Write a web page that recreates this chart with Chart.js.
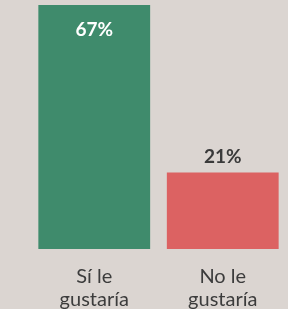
<!DOCTYPE html>
<html>
<head>
  <script src="https://cdn.jsdelivr.net/npm/chart.js"></script>
  <style>
    html, body { margin: 0; padding: 0; background: #dbd5d1; }
    #wrap { width: 288px; height: 309px; }
  </style>
</head>
<body>
  <div id="wrap"><canvas id="chart"></canvas></div>
  <script>
    const categories = [["Sí le", "gustaría"], ["No le", "gustaría"]];
    const values = [67, 21];
    const valueLabels = ["67%", "21%"];
    const barColors = ["#3f8b6c", "#dc6262"];
    const labelColors = ["#ffffff", "#3a3a3a"];

    // draws the percentage over each bar
    const valuePlugin = {
      id: 'valueLabels',
      afterDatasetsDraw(chart) {
        const ctx = chart.ctx;
        const bars = chart.getDatasetMeta(0).data;
        ctx.save();
        ctx.textAlign = 'center';
        ctx.textBaseline = 'middle';
        ctx.font = 'bold 19px Lato';
        bars.forEach((bar, i) => {
          ctx.fillStyle = labelColors[i];
          const y = i === 0 ? bar.y + 25 : bar.y - 16;
          ctx.fillText(valueLabels[i], bar.x, y);
        });
        ctx.restore();
      }
    };

    new Chart(document.getElementById("chart"), {
      type: 'bar',
      data: {
        labels: categories,
        datasets: [{
          data: values,
          backgroundColor: barColors,
          barPercentage: 0.87,
          categoryPercentage: 1
        }]
      },
      options: {
        responsive: true,
        maintainAspectRatio: false,
        animation: false,
        layout: { padding: { left: 30, right: 1, top: 5, bottom: 0 } },
        plugins: { legend: { display: false }, tooltip: { enabled: false } },
        scales: {
          x: {
            grid: { display: false, drawTicks: false },
            border: { display: false },
            afterFit: s => { s.height = 60; },
            ticks: {
              color: '#3c3c3c',
              font: { family: 'Lato', size: 20, lineHeight: 1.15 },
              padding: 16,
              maxRotation: 0
            }
          },
          y: {
            display: false,
            min: 0,
            max: 67
          }
        }
      },
      plugins: [valuePlugin]
    });
  </script>
</body>
</html>
